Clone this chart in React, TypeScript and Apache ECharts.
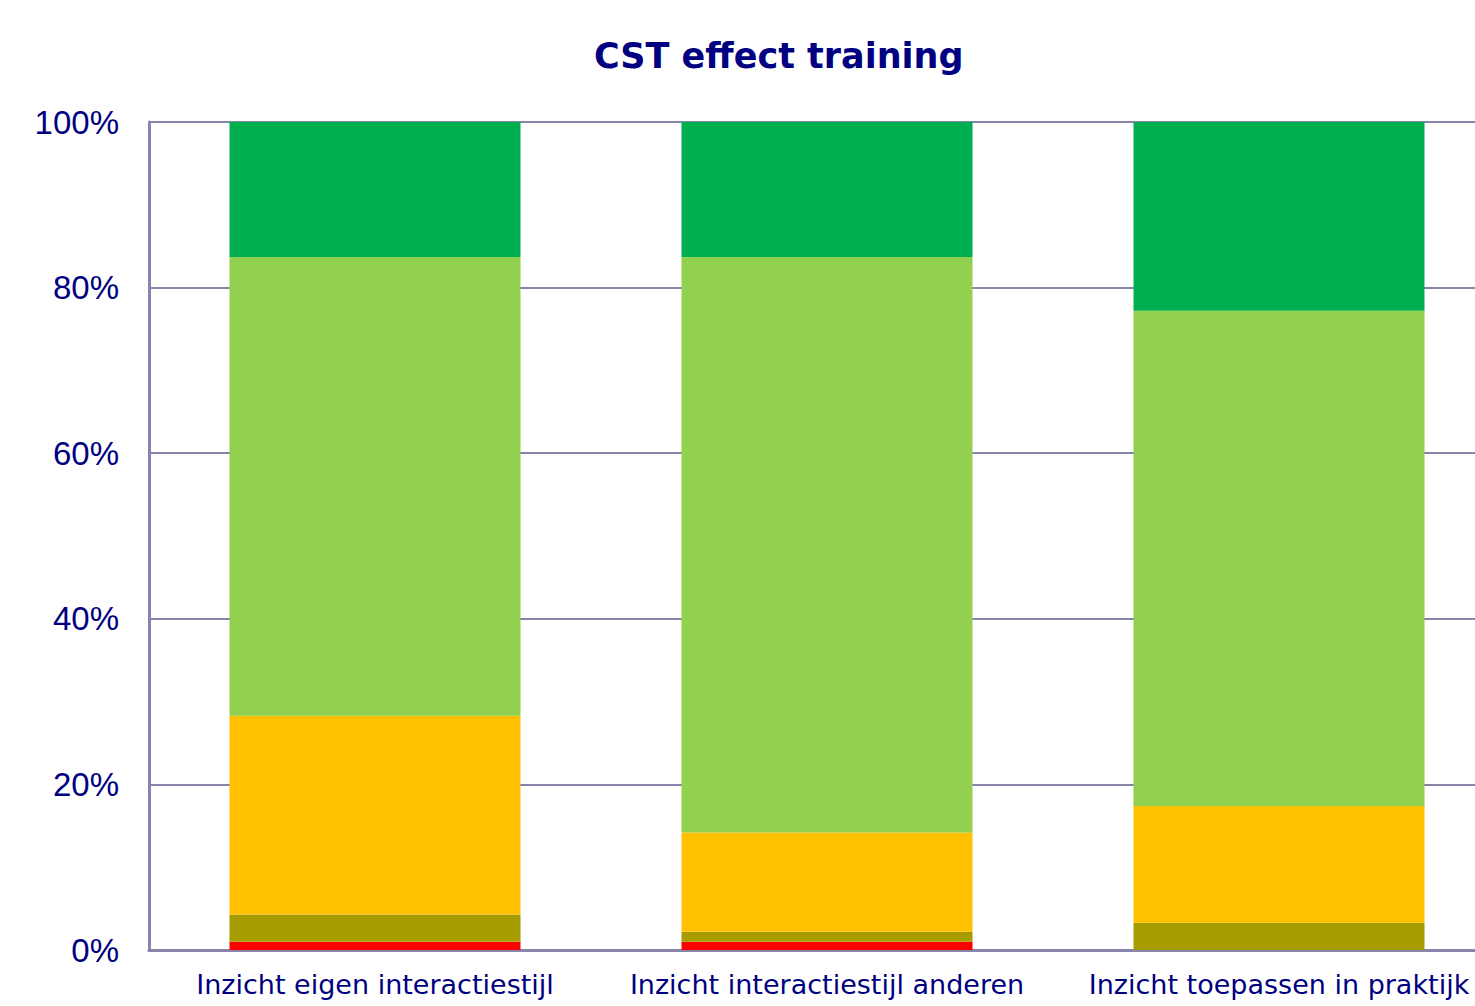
import React, { useEffect, useRef } from "react";
import * as echarts from "echarts";

const categories = ["Inzicht eigen interactiestijl", "Inzicht interactiestijl anderen", "Inzicht toepassen in praktijk"];
const seriesNames = ["Zeer slecht", "Slecht", "Matig", "Goed", "Zeer goed"];
const seriesColors = ["#FF0000", "#A69C00", "#FFC000", "#92D050", "#00B050"];
const redValues = [1.0, 1.0, 0];
const oliveValues = [3.3, 1.2, 3.3];
const orangeValues = [24.0, 12.0, 14.1];
const lightGreenValues = [55.4, 69.5, 59.8];
const darkGreenValues = [16.3, 16.3, 22.8];
const yTicks = [0, 20, 40, 60, 80, 100];

export default function App() {
  const ref = useRef<HTMLDivElement>(null);
  useEffect(() => {
    if (!ref.current) return;
    const chart = echarts.init(ref.current, null, { renderer: "svg" });
    const allValues = [redValues, oliveValues, orangeValues, lightGreenValues, darkGreenValues];
    chart.setOption({
      animation: false,
      backgroundColor: "#ffffff",
      title: {
        text: "CST effect training",
        left: 589,
        top: 33,
        textStyle: { color: "#000080", fontSize: 35, fontWeight: "bold", fontFamily: "DejaVu Sans" },
      },
      grid: { left: 149, right: 0, top: 122, bottom: 56, containLabel: false },
      xAxis: {
        type: "category",
        data: categories,
        axisLine: { show: true, lineStyle: { color: "#8884AC", width: 3 } },
        axisTick: { show: false },
        axisLabel: { color: "#000080", fontSize: 27, fontFamily: "DejaVu Sans", margin: 21, interval: 0 },
      },
      yAxis: {
        type: "value",
        min: yTicks[0],
        max: yTicks[yTicks.length - 1],
        interval: 20,
        axisLine: { show: true, lineStyle: { color: "#8884AC", width: 3 } },
        axisTick: { show: false },
        splitLine: { show: true, lineStyle: { color: "#8884AC", width: 2 } },
        axisLabel: { color: "#000080", fontSize: 33, fontFamily: "Liberation Sans", margin: 30, formatter: "{value}%" },
      },
      series: allValues.map((vals, i) => ({
        name: seriesNames[i],
        type: "bar",
        stack: "total",
        barWidth: 291,
        data: vals,
        itemStyle: { color: seriesColors[i] },
      })),
    });
    return () => chart.dispose();
  }, []);
  return (
    <div style={{ position: "fixed", left: 0, top: 0, width: 1475, height: 1006, overflow: "hidden" }}>
      <div ref={ref} style={{ width: 1505, height: 1006 }} />
    </div>
  );
}
